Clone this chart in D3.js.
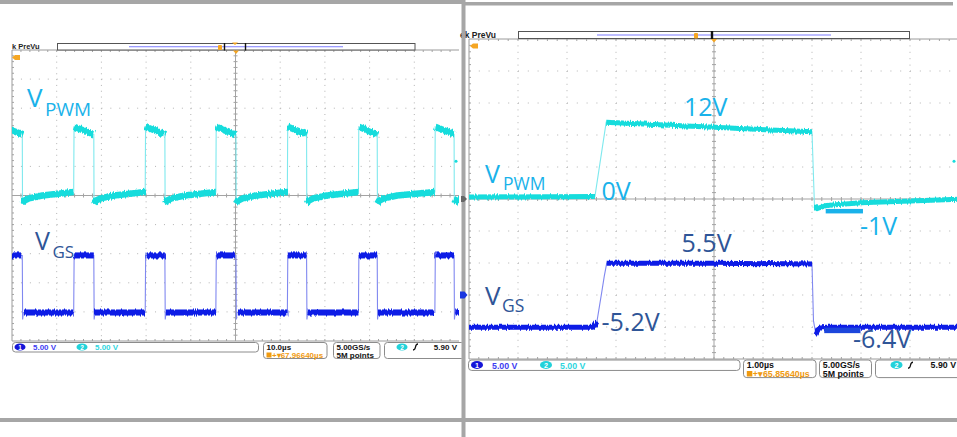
<!DOCTYPE html>
<html>
<head>
<meta charset="utf-8">
<script src="https://cdn.jsdelivr.net/npm/d3@7"></script>
<style>
  html, body { margin: 0; padding: 0; background: #fff; }
  svg { display: block; }
  .big { font-family: "Open Sans", sans-serif; }
  .info { font-family: "Liberation Sans", Arial, sans-serif; font-weight: bold; }
</style>
</head>
<body>
<div id="chart"></div>
<script>
// DATA
// left capture (10 us/div): edge times of the PWM pulses, in us
var leftRise = [-2.2, 13.8, 29.8, 45.6, 61.6, 77.5, 94.6];
var leftFall = [2.3, 18.3, 34.2, 50.1, 65.9, 81.7, 98.9];
// V_PWM top of pulse (V) just after rise / just before fall
var pwmHigh = [11.8, 10.5];
// V_PWM after the fall: [us after fall, V]; then level just before next rise
var pwmLow = [[0.05, -1.4], [0.4, -0.9], [1.5, -0.5], [4.5, 0.0]];
var pwmLowEnd = 0.6;
// V_GS levels in the left capture (V)
var gsHigh = 4.7, gsLow = -5.1, gsUndershoot = -6.3;

// right capture (1 us/div): [us, V]
var rightPwm = [[0, 0.3], [2.57, 0.4], [2.8, 12.0], [3.0, 11.9], [5.0, 11.2], [7.0, 10.5],
                [7.05, -1.0], [7.1, -1.5], [7.3, -1.0], [8.0, -0.6], [9.0, -0.3], [10.0, -0.05]];
var rightGs = [[0, -5.05], [2.54, -5.05], [2.61, -4.2], [2.71, 0.5], [2.76, 2.9], [2.81, 4.95],
               [5.0, 4.95], [7.0, 4.85], [7.03, -4.0], [7.08, -6.2], [7.15, -5.2], [7.3, -5.05], [10.0, -5.05]];

var voltsPerDiv = 5;
var chPosition = {pwm: 0, gs: -3};   // divisions
var triggerLevel = 5.9;

var leftInfo = {scale: "10.0µs", delay: "67.96640µs", rate: "5.00GS/s", points: "5M points", trig: "5.90 V", ch: "5.00 V"};
var rightInfo = {scale: "1.00µs", delay: "65.85640µs", rate: "5.00GS/s", points: "5M points", trig: "5.90 V", ch: "5.00 V"};

// SET UP
var width = 957, height = 437;
var svg = d3.select("#chart").append("svg")
    .attr("width", width)
    .attr("height", height);

var defs = svg.append("defs");
// vertical jitter only: noise that changes along x, almost not along y
var fuzz = defs.append("filter").attr("id", "fuzz")
    .attr("filterUnits", "userSpaceOnUse")
    .attr("x", 0).attr("y", 0).attr("width", width).attr("height", height);
fuzz.append("feTurbulence").attr("type", "fractalNoise")
    .attr("baseFrequency", "0.7 0.01").attr("numOctaves", 2).attr("seed", 4).attr("result", "n");
fuzz.append("feDisplacementMap").attr("in", "SourceGraphic").attr("in2", "n")
    .attr("scale", 4).attr("xChannelSelector", "B").attr("yChannelSelector", "G");

var cyan = "#17dcdc", cyanEdge = "#7fe9ee";
var blue = "#0b1ae6", blueEdge = "#8088f0";
var labelCyan = "#19b2ea", labelBlue = "#2f5597";

// panels: pixel box of each graticule
var panels = [
  {id: "L", x0: 12, x1: 459, y0: 50, y1: 341, tmax: 100},
  {id: "R", x0: 469, x1: 959, y0: 39, y1: 359, tmax: 10}
];

panels.forEach(function(p) {
  p.x = d3.scaleLinear().domain([0, p.tmax]).range([p.x0, p.x1]);
  p.div = d3.scaleLinear().domain([-5, 5]).range([p.y1, p.y0]);
  p.y = function(ch) { return function(v) { return p.div(v / voltsPerDiv + chPosition[ch]); }; };
  defs.append("clipPath").attr("id", "clip" + p.id)
    .append("rect").attr("x", p.x0).attr("y", p.y0 - 3)
    .attr("width", Math.min(p.x1, width) - p.x0).attr("height", p.y1 - p.y0 + 6);
  drawGrid(p);
});

// GRID
function drawGrid(p) {
  var g = svg.append("g");
  var dw = (p.x1 - p.x0) / 10, dh = (p.y1 - p.y0) / 10;
  var xc = p.x0 + 5 * dw, yc = p.y0 + 5 * dh;
  for (var i = 1; i < 10; i++) {
    if (i === 5) continue;
    g.append("line").attr("x1", p.x0 + i * dw).attr("x2", p.x0 + i * dw)
      .attr("y1", p.y0).attr("y2", p.y1)
      .attr("stroke", "#b3b3b3").attr("stroke-width", 1)
      .attr("stroke-dasharray", "1," + (dh / 5 - 1));
    g.append("line").attr("y1", p.y0 + i * dh).attr("y2", p.y0 + i * dh)
      .attr("x1", p.x0).attr("x2", p.x1)
      .attr("stroke", "#b3b3b3").attr("stroke-width", 1)
      .attr("stroke-dasharray", "1," + (dw / 5 - 1));
  }
  // centre cross and border
  g.append("line").attr("x1", xc).attr("x2", xc).attr("y1", p.y0).attr("y2", p.y1).attr("stroke", "#a3a3a3");
  g.append("line").attr("x1", p.x0).attr("x2", p.x1).attr("y1", yc).attr("y2", yc).attr("stroke", "#a3a3a3");
  g.append("line").attr("x1", p.x0).attr("x2", p.x1).attr("y1", p.y0).attr("y2", p.y0).attr("stroke", "#9a9a9a");
  g.append("line").attr("x1", p.x0).attr("x2", p.x1).attr("y1", p.y1).attr("y2", p.y1).attr("stroke", "#9a9a9a");
  g.append("line").attr("x1", p.x0).attr("x2", p.x0).attr("y1", p.y0).attr("y2", p.y1).attr("stroke", "#9a9a9a");
  for (var k = 1; k < 50; k++) {
    var tx = p.x0 + k * dw / 5, ty = p.y0 + k * dh / 5;
    g.append("line").attr("x1", tx).attr("x2", tx).attr("y1", yc - 2).attr("y2", yc + 2).attr("stroke", "#a3a3a3");
    g.append("line").attr("y1", ty).attr("y2", ty).attr("x1", xc - 2).attr("x2", xc + 2).attr("stroke", "#a3a3a3");
    g.append("line").attr("x1", tx).attr("x2", tx).attr("y1", p.y0).attr("y2", p.y0 + 2).attr("stroke", "#a3a3a3");
    g.append("line").attr("x1", tx).attr("x2", tx).attr("y1", p.y1 - 2).attr("y2", p.y1).attr("stroke", "#a3a3a3");
    g.append("line").attr("y1", ty).attr("y2", ty).attr("x1", p.x0).attr("x2", p.x0 + 2).attr("stroke", "#a3a3a3");
  }
}

// TRACES
function leftPwmPoints() {
  var pts = [];
  leftRise.forEach(function(r, i) {
    var f = leftFall[i];
    pts.push([r, pwmLowEnd], [r + 0.08, pwmHigh[0]], [f, pwmHigh[1]]);
    pwmLow.forEach(function(q) { pts.push([f + q[0], q[1]]); });
    var next = i + 1 < leftRise.length ? leftRise[i + 1] : 110;
    pts.push([next - 0.01, pwmLowEnd]);
  });
  return pts;
}
function leftGsPoints() {
  var pts = [];
  leftRise.forEach(function(r, i) {
    var f = leftFall[i];
    var next = i + 1 < leftRise.length ? leftRise[i + 1] : 110;
    pts.push([r, gsLow], [r + 0.1, gsHigh], [f, gsHigh], [f + 0.08, gsUndershoot],
             [f + 0.25, gsLow], [next - 0.01, gsLow]);
  });
  return pts;
}

function drawTrace(p, ch, pts, col, edgeCol, w) {
  var xS = p.x, yS = p.y(ch);
  var line = d3.line().x(function(d) { return xS(d[0]); }).y(function(d) { return yS(d[1]); });
  var g = svg.append("g").attr("clip-path", "url(#clip" + p.id + ")");
  g.append("path").datum(pts).attr("d", line)
    .attr("fill", "none").attr("stroke", edgeCol).attr("stroke-width", 1.1);
  // slow parts of the trace are drawn as a thick fuzzy band
  var runs = [], cur = null;
  for (var i = 1; i < pts.length; i++) {
    var dx = Math.abs(xS(pts[i][0]) - xS(pts[i - 1][0]));
    var dy = Math.abs(yS(pts[i][1]) - yS(pts[i - 1][1]));
    if (dy <= 2 * dx + 1) {
      if (!cur) { cur = [pts[i - 1]]; runs.push(cur); }
      cur.push(pts[i]);
    } else cur = null;
  }
  var band = g.append("g").attr("filter", "url(#fuzz)");
  band.selectAll("path").data(runs).join("path")
    .attr("d", line).attr("fill", "none")
    .attr("stroke", col).attr("stroke-width", w)
    .attr("stroke-linecap", "butt").attr("stroke-linejoin", "round");
}

var L = panels[0], R = panels[1];
drawTrace(L, "pwm", leftPwmPoints(), cyan, cyanEdge, 6.5);
drawTrace(L, "gs", leftGsPoints(), blue, blueEdge, 6);
drawTrace(R, "pwm", rightPwm, cyan, cyanEdge, 5);
drawTrace(R, "gs", rightGs, blue, blueEdge, 5);

// trigger level dots
[L, R].forEach(function(p) {
  svg.append("circle").attr("cx", Math.min(p.x1, width) - 3).attr("cy", p.y("pwm")(triggerLevel))
    .attr("r", 1.5).attr("fill", cyan);
});

// marker bars under the -1V / -6.4V levels (right capture)
svg.append("rect").attr("x", R.x(7.28)).attr("width", R.x(8.04) - R.x(7.28))
  .attr("y", R.y("pwm")(-1.55)).attr("height", 4.5).attr("fill", labelCyan);
svg.append("rect").attr("x", R.x(7.25)).attr("width", R.x(7.99) - R.x(7.25))
  .attr("y", R.y("gs")(-5.1)).attr("height", 5.5).attr("fill", "#1c46dc");

// LABELS
function bigLabel(x, y, txt, size, col) {
  svg.append("text").attr("class", "big").attr("x", x).attr("y", y)
    .attr("font-size", size).attr("fill", col).text(txt);
}
bigLabel(27, 107, "V", 26, labelCyan);
bigLabel(45, 115.5, "PWM", 19, labelCyan);
bigLabel(35, 250, "V", 25, labelBlue);
bigLabel(52.5, 258.3, "GS", 17, labelBlue);

bigLabel(684, 115.5, "12V", 25, labelCyan);
bigLabel(485, 183, "V", 25, labelCyan);
bigLabel(503, 190, "PWM", 17.5, labelCyan);
bigLabel(601.5, 200, "0V", 25, labelCyan);
bigLabel(860, 235, "-1V", 25, labelCyan);
bigLabel(681.5, 252.3, "5.5V", 25, labelBlue);
bigLabel(485, 305, "V", 26, labelBlue);
bigLabel(502, 311.7, "GS", 17.5, labelBlue);
bigLabel(601.5, 331, "-5.2V", 25, labelBlue);
bigLabel(853, 348.3, "-6.4V", 25, labelBlue);

// PREVU BARS
function preVu(o) {
  var g = svg.append("g");
  g.append("text").attr("class", "info").attr("x", o.tx).attr("y", o.ty)
    .attr("font-size", o.fs).attr("fill", "#222").text(o.label);
  g.append("rect").attr("x", o.x0).attr("y", o.y).attr("width", o.x1 - o.x0).attr("height", o.h)
    .attr("fill", "#fff").attr("stroke", "#555").attr("stroke-width", 1);
  g.append("line").attr("x1", o.b0).attr("x2", o.b1).attr("y1", o.y + o.h / 2).attr("y2", o.y + o.h / 2)
    .attr("stroke", "#7b7bff").attr("stroke-width", 1.2);
  o.win.forEach(function(x) {
    g.append("rect").attr("x", x - 0.7).attr("y", o.y - 0.5).attr("width", o.ww).attr("height", o.h + 1).attr("fill", "#111");
  });
  g.append("rect").attr("x", o.ox - 2).attr("y", o.y + 1.5).attr("width", 4).attr("height", o.h - 1.5)
    .attr("fill", "#f5a623").attr("rx", 1);
  g.append("path").attr("d", "M" + (o.tri - 3) + "," + (o.y + o.h + 0.5) + "h6l-3,3.5z").attr("fill", "#f5a623");
  // trigger flag at graticule corner
  g.append("path").attr("d", "M" + o.fx + "," + (o.fy + 2.5) + "l3,-2.5h5v5h-5z").attr("fill", "#f5a623");
}
preVu({label: "k PreVu", tx: 12, ty: 48.5, fs: 7.5, x0: 57.5, x1: 415, y: 43.5, h: 6.5,
       b0: 129, b1: 343, win: [224.5, 245.5], ww: 1.4, ox: 220, tri: 236, fx: 12, fy: 55});
preVu({label: "ek PreVu", tx: 460, ty: 37.5, fs: 8.5, x0: 518.5, x1: 909.5, y: 31.5, h: 7,
       b0: 597, b1: 831, win: [711.5], ww: 2.4, ox: 696, tri: 714, fx: 470, fy: 43.5});
svg.append("path").attr("d", "M232,42.5h6l-3,2.5z").attr("fill", "#f5a623");

// INFO BOXES
function infoBoxes(o, info) {
  var g = svg.append("g").attr("class", "info");
  var s = o.s;
  function box(x, w, h) {
    g.append("rect").attr("x", x).attr("y", o.y).attr("width", w).attr("height", h)
      .attr("rx", 3 * s).attr("fill", "#fff").attr("stroke", "#8c8c8c").attr("stroke-width", 1);
  }
  function chip(cx, col, n) {
    g.append("ellipse").attr("cx", cx).attr("cy", o.y + 4.5 * s).attr("rx", 5.5 * s).attr("ry", 3.6 * s).attr("fill", col);
    g.append("text").attr("x", cx).attr("y", o.y + 7 * s).attr("text-anchor", "middle")
      .attr("font-size", 6.5 * s).attr("fill", "#fff").text(n);
  }
  box(o.b1[0], o.b1[1], 9.5 * s);
  chip(o.c1, "#1515d8", "1");
  g.append("text").attr("x", o.t1).attr("y", o.y + 7.8 * s).attr("font-size", 8 * s).attr("fill", "#3d3df2").text(info.ch);
  chip(o.c2, "#22d2da", "2");
  g.append("text").attr("x", o.t2).attr("y", o.y + 7.8 * s).attr("font-size", 8 * s).attr("fill", "#2fd6de").text(info.ch);

  box(o.b2[0], o.b2[1], 16 * s);
  g.append("text").attr("x", o.b2[0] + 3 * s).attr("y", o.y + 7.5 * s).attr("font-size", 8 * s).attr("fill", "#111").text(info.scale);
  g.append("rect").attr("x", o.b2[0] + 3 * s).attr("y", o.y + 10 * s).attr("width", 5 * s).attr("height", 5 * s).attr("fill", "#f09a10");
  g.append("text").attr("x", o.b2[0] + 8.5 * s).attr("y", o.y + 15 * s).attr("font-size", 8 * s).attr("fill", "#f09a10").text("+▾" + info.delay);

  box(o.b3[0], o.b3[1], 16 * s);
  g.append("text").attr("x", o.b3[0] + 3 * s).attr("y", o.y + 7.5 * s).attr("font-size", 8 * s).attr("fill", "#111").text(info.rate);
  g.append("text").attr("x", o.b3[0] + 3 * s).attr("y", o.y + 15 * s).attr("font-size", 8 * s).attr("fill", "#111").text(info.points);

  box(o.b4[0], o.b4[1], 16 * s);
  chip(o.c4, "#22d2da", "2");
  g.append("path").attr("d", "M" + o.sl + "," + (o.y + 7.5 * s) + "q2,0 2.5,-3 t2.5,-3")
    .attr("fill", "none").attr("stroke", "#111").attr("stroke-width", 1.3);
  g.append("text").attr("x", o.t4).attr("y", o.y + 7.5 * s).attr("text-anchor", "end")
    .attr("font-size", 8 * s).attr("fill", "#111").text(info.trig);
}
infoBoxes({s: 1, y: 342.5, b1: [12.5, 246], c1: 20, t1: 33, c2: 82, t2: 95,
           b2: [263.5, 63.5], b3: [333.5, 46.5], b4: [384.5, 80], c4: 402, sl: 413, t4: 457}, leftInfo);
infoBoxes({s: 1.1, y: 360, b1: [468.5, 271.5], c1: 477, t1: 492, c2: 546, t2: 560,
           b2: [743.5, 72.5], b3: [819.5, 52], b4: [875.5, 90], c4: 896.5, sl: 908, t4: 956}, rightInfo);

// FRAME
svg.append("rect").attr("x", 0).attr("y", 0).attr("width", 462).attr("height", 4).attr("fill", "#a6a6a6");
svg.append("rect").attr("x", 462).attr("y", 2).attr("width", 491).attr("height", 3.5).attr("fill", "#a6a6a6");
svg.append("rect").attr("x", 0).attr("y", 418).attr("width", width).attr("height", 4).attr("fill", "#a6a6a6");
svg.append("rect").attr("x", 461.5).attr("y", 0).attr("width", 4).attr("height", height).attr("fill", "#a6a6a6");

// ground markers of the right capture
svg.append("path").attr("d", "M461," + (R.y("pwm")(0) - 3) + "h3l3,3l-3,3h-3z").attr("fill", "#666");
svg.append("path").attr("d", "M460," + (R.y("gs")(0) - 3.5) + "h4.5l3,3.5l-3,3.5h-4.5z").attr("fill", "#1a36e0");
</script>
</body>
</html>
